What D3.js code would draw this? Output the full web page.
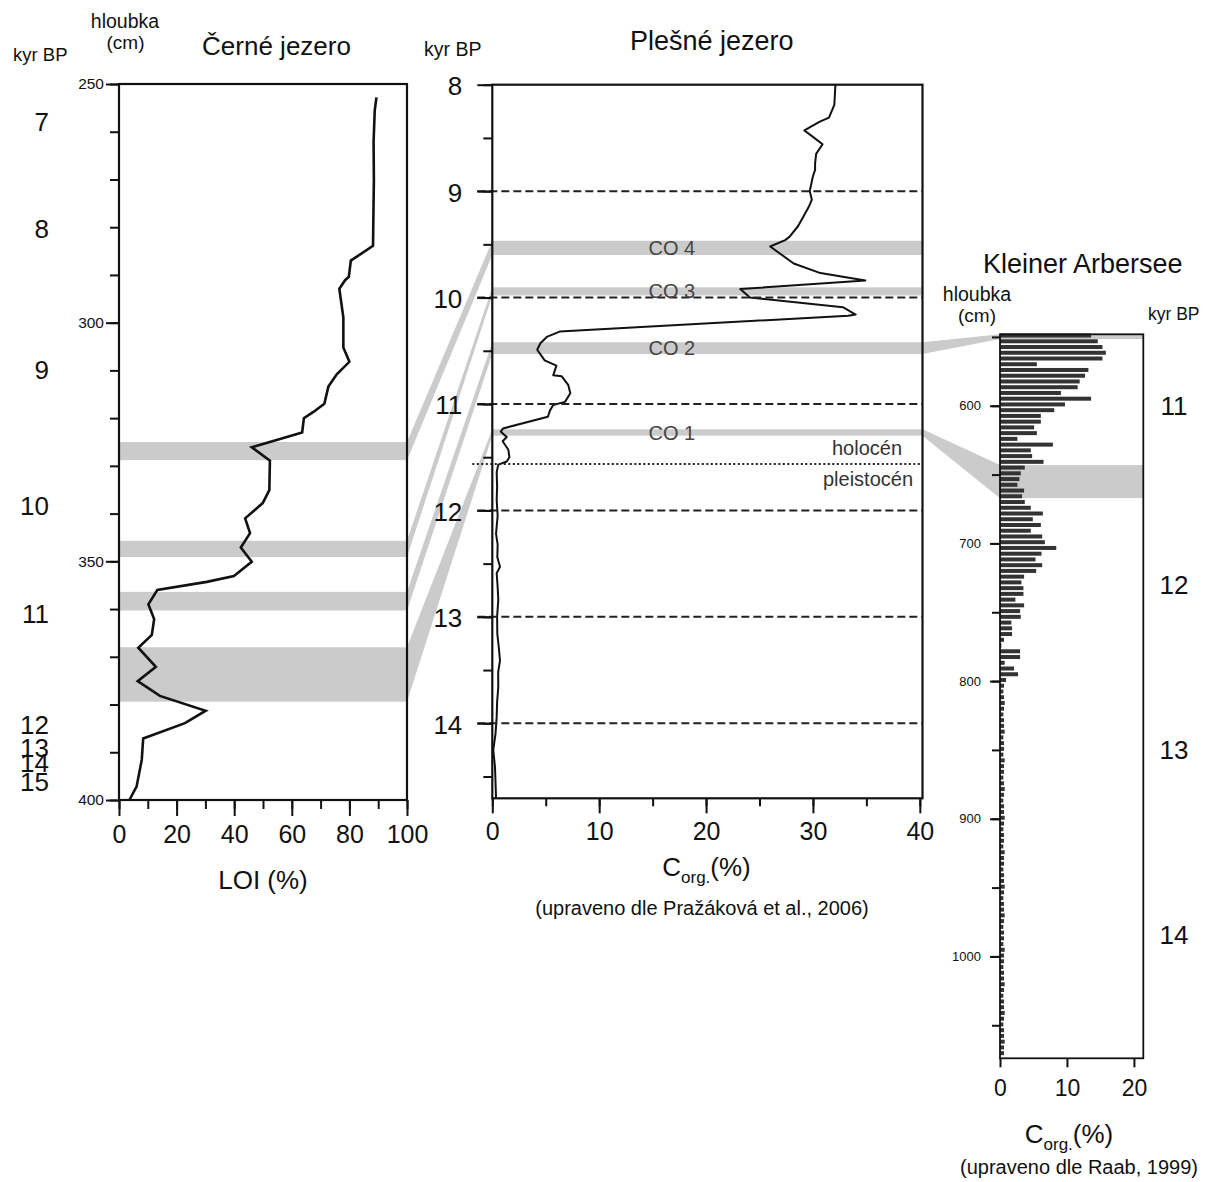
<!DOCTYPE html>
<html>
<head>
<meta charset="utf-8">
<script src="https://cdn.jsdelivr.net/npm/d3@7"></script>
<style>
  body { margin: 0; background: #fff; }
  svg { font-family: "Liberation Sans", Arial, sans-serif; }
</style>
</head>
<body>
<svg id="fig" width="1211" height="1182"></svg>
<script>
// ---------- Černé jezero: loss on ignition (%) against depth (cm) ----------
const cerneDepth = [252.8, 255.5, 262, 270.1, 283.9, 287.0, 290.4, 291.1, 292.9, 298.9, 305.2, 308.2, 310.8,
  313.4, 317.0, 318.7, 320.0, 323.0, 326.1, 328.9, 335.1, 337.8, 341.0, 344.1, 347.1, 350.1, 353.1, 354.3,
  356.0, 359.0, 362.1, 365.4, 368.1, 372.1, 375.1, 378.2, 381.3, 383.9, 387.1, 391.6, 397.2, 400.0];
const cerneLOI = [89.4, 88.8, 88.4, 88.5, 88.2, 80.5, 79.8, 78.5, 76.5, 77.9, 77.9, 80.0, 75.6,
  72.7, 71.3, 67.5, 64.2, 63.6, 46.1, 52.4, 52.2, 49.9, 43.8, 45.5, 42.3, 46.1, 39.9, 30.5,
  13.3, 10.2, 12.2, 11.4, 6.7, 12.8, 6.5, 14.2, 30.1, 22.9, 8.4, 7.9, 6.1, 3.6];
const cerneDepthLabels = [250, 300, 350, 400];
const cerneLOILabels = [0, 20, 40, 60, 80, 100];
const cerneAgeLabels = ["7", "8", "9", "10", "11", "12", "13", "14", "15"];
const cerneAgeDepth = [257.9, 280.2, 309.9, 338.2, 361.0, 384.2, 389.1, 392.1, 396.1];
const cerneBandTop = [325.0, 345.7, 356.4, 368.0];
const cerneBandBottom = [328.8, 349.1, 360.3, 379.4];

// ---------- Plešné jezero: organic carbon (%) against age (kyr BP) ----------
const plesneAge = [8.00, 8.19, 8.31, 8.35, 8.43, 8.49, 8.56, 8.65, 8.74, 8.80, 8.86, 9.00, 9.08, 9.15, 9.24,
  9.33, 9.43, 9.46, 9.52, 9.68, 9.77, 9.84, 9.92, 10.00, 10.09, 10.16, 10.17, 10.32, 10.37, 10.43, 10.49,
  10.59, 10.64, 10.73, 10.74, 10.82, 10.90, 10.98, 11.01, 11.06, 11.12, 11.23, 11.26, 11.31, 11.35, 11.43,
  11.50, 11.54, 11.57, 11.64, 11.78, 11.90, 12.05, 12.22, 12.32, 12.44, 12.53, 12.59, 12.72, 12.84, 13.00,
  13.16, 13.28, 13.41, 13.52, 13.66, 13.80, 13.94, 14.10, 14.25, 14.41, 14.55, 14.705];
const plesneCorg = [32.1, 32.0, 31.5, 30.6, 29.2, 30.0, 30.9, 30.3, 30.2, 30.2, 30.0, 29.7, 29.9, 29.6, 29.1,
  28.6, 27.8, 27.4, 26.0, 28.2, 30.7, 34.9, 23.2, 24.1, 32.8, 34.0, 33.3, 6.3, 5.1, 4.5, 4.2,
  4.9, 6.0, 5.7, 6.5, 7.1, 7.3, 6.8, 5.7, 5.4, 5.2, 1.0, 0.8, 1.35, 0.97, 1.5,
  1.6, 1.35, 0.56, 0.41, 0.45, 0.41, 0.5, 0.35, 0.5, 0.47, 0.72, 0.41, 0.5, 0.56, 0.45,
  0.47, 0.6, 0.72, 0.55, 0.56, 0.45, 0.41, 0.3, 0.09, 0.25, 0.3, 0.35];
const plesneAgeLabels = [8, 9, 10, 11, 12, 13, 14];
const plesneCorgLabels = [0, 10, 20, 30, 40];
const coZones = ["CO 4", "CO 3", "CO 2", "CO 1"];
const coAgeTop = [9.466, 9.904, 10.42, 11.238];
const coAgeBottom = [9.600, 9.980, 10.53, 11.298];
const epochBoundaryAge = 11.564;
const epochLabels = ["holocén", "pleistocén"];

// ---------- Kleiner Arbersee: organic carbon (%) against depth (cm) ----------
const arberseeCorg = [13.6, 14.6, 15.3, 15.8, 15.3, 5.5, 13.2, 12.7, 11.9, 11.6, 9.1, 13.6, 9.7, 8.1, 6.1, 6.1,
  5.1, 5.5, 2.6, 7.9, 4.6, 4.8, 6.5, 3.7, 3.1, 2.9, 2.6, 3.6, 3.3, 3.7, 4.6, 6.4, 4.9, 6.1, 4.6, 6.3,
  6.7, 8.4, 6.2, 5.3, 6.3, 5.4, 3.6, 3.2, 3.5, 3.5, 2.3, 3.6, 3.0, 3.1, 1.7, 1.8, 1.8, 0.6, 0.2, 3.0,
  3.0, 0.7, 2.1, 2.7, 0.9,
  0.6, 0.5, 0.6, 0.7, 0.6, 0.5, 0.6, 0.6, 0.7, 0.5, 0.6, 0.6, 0.5, 0.7, 0.6, 0.6, 0.5, 0.6, 0.7, 0.6,
  0.5, 0.6, 0.6, 0.7, 0.6, 0.5, 0.6, 0.6, 0.5, 0.7, 0.6, 0.6, 0.5, 0.6, 0.6, 0.7, 0.6, 0.5, 0.6, 0.6,
  0.7, 0.6, 0.5, 0.6, 0.6, 0.5, 0.7, 0.6, 0.6, 0.5, 0.6, 0.6, 0.7, 0.6, 0.5, 0.6, 0.6, 0.7, 0.6, 0.5,
  0.6, 0.6, 0.7, 0.6, 0.6];
const arberseeFirstDepth = 549;   // cm, first sample
const arberseeSpacing = 4.17;     // cm between samples
const arberseeDepthLabels = [600, 700, 800, 900, 1000];
const arberseeCorgLabels = [0, 10, 20];
const arberseeAgeLabels = ["11", "12", "13", "14"];
const arberseeAgeDepth = [599.6, 729.7, 850, 983.8];
const arberseeBandTop = [548.1, 643.1];
const arberseeBandBottom = [551.5, 667.1];
const arberseeBandZone = ["CO 2", "CO 1"];

// ---------- layout ----------
const svg = d3.select("#fig");
const INK = "#111";
const BAND = "#cbcbcb";
const plain = d => String(d);

const xL = d3.scaleLinear([0, 100], [119, 407]);
const yL = d3.scaleLinear([250, 400], [84, 800]);
const xM = d3.scaleLinear([0, 40.25], [492.3, 922.5]);
const yM = d3.scaleLinear([8, 14.705], [84.7, 798.3]);
const xR = d3.scaleLinear([0, 21.4], [1000, 1143.3]);
const yR = d3.scaleLinear([548.1, 1074], [334.3, 1058.3]);

const gBands = svg.append("g");
const gMarks = svg.append("g");
const gAxes = svg.append("g");
const gText = svg.append("g");

// ---------- grey correlation bands and connectors ----------
cerneBandTop.forEach((t, i) => {
  gBands.append("rect")
    .attr("x", xL(0)).attr("width", xL(100) - xL(0))
    .attr("y", yL(t)).attr("height", yL(cerneBandBottom[i]) - yL(t))
    .attr("fill", BAND);
});
coAgeTop.forEach((t, i) => {
  gBands.append("rect")
    .attr("x", xM.range()[0]).attr("width", xM.range()[1] - xM.range()[0])
    .attr("y", yM(t)).attr("height", yM(coAgeBottom[i]) - yM(t))
    .attr("fill", BAND);
  // Černé jezero band -> Plešné zone
  gBands.append("polygon")
    .attr("points", [
      [xL(100), yL(cerneBandTop[i])], [xM(0), yM(t)],
      [xM(0), yM(coAgeBottom[i])], [xL(100), yL(cerneBandBottom[i])]
    ].map(p => p.join(",")).join(" "))
    .attr("fill", BAND);
});
arberseeBandTop.forEach((t, i) => {
  gBands.append("rect")
    .attr("x", xR(0)).attr("width", xR.range()[1] - xR(0))
    .attr("y", yR(t)).attr("height", yR(arberseeBandBottom[i]) - yR(t))
    .attr("fill", BAND);
  const z = coZones.indexOf(arberseeBandZone[i]);
  gBands.append("polygon")
    .attr("points", [
      [xM.range()[1], yM(coAgeTop[z])], [xR(0), yR(t)],
      [xR(0), yR(arberseeBandBottom[i])], [xM.range()[1], yM(coAgeBottom[z])]
    ].map(p => p.join(",")).join(" "))
    .attr("fill", BAND);
});

// ---------- data marks ----------
gMarks.append("path")
  .datum(cerneDepth.map((d, i) => [cerneLOI[i], d]))
  .attr("d", d3.line().x(d => xL(d[0])).y(d => yL(d[1])))
  .attr("fill", "none").attr("stroke", INK).attr("stroke-width", 2.6).attr("stroke-linejoin", "miter");

gMarks.append("path")
  .datum(plesneAge.map((a, i) => [plesneCorg[i], a]))
  .attr("d", d3.line().x(d => xM(d[0])).y(d => yM(d[1])))
  .attr("fill", "none").attr("stroke", INK).attr("stroke-width", 2).attr("stroke-linejoin", "round");

gMarks.selectAll("rect.bar")
  .data(arberseeCorg)
  .join("rect")
  .attr("class", "bar")
  .attr("x", xR(0))
  .attr("y", (v, i) => yR(arberseeFirstDepth + i * arberseeSpacing) - 2)
  .attr("width", v => xR(v) - xR(0))
  .attr("height", 4)
  .attr("fill", "#333");

// millennium lines in Plešné jezero
plesneAgeLabels.filter(a => a > 8).forEach(a => {
  gMarks.append("line")
    .attr("x1", xM.range()[0] - 15).attr("x2", xM.range()[1])
    .attr("y1", yM(a)).attr("y2", yM(a))
    .attr("stroke", "#222").attr("stroke-width", 2).attr("stroke-dasharray", "8,4");
});
gMarks.append("line")
  .attr("x1", xM.range()[0] - 20).attr("x2", xM.range()[1])
  .attr("y1", yM(epochBoundaryAge)).attr("y2", yM(epochBoundaryAge))
  .attr("stroke", "#222").attr("stroke-width", 2).attr("stroke-dasharray", "2,2.5");

// ---------- frames ----------
function frame(x0, x1, y0, y1, w) {
  gAxes.append("rect")
    .attr("x", x0).attr("y", y0).attr("width", x1 - x0).attr("height", y1 - y0)
    .attr("fill", "none").attr("stroke", INK).attr("stroke-width", w);
}
frame(xL(0), xL(100), yL(250), yL(400), 2.2);
frame(xM.range()[0], xM.range()[1], yM(8), yM(14.705), 2.2);
frame(xR(0), xR.range()[1], yR(548.1), yR(1074), 1.8);

// ---------- axes ----------
function styleAxis(g, size) {
  g.select(".domain").remove();
  g.selectAll("line").attr("stroke", INK).attr("stroke-width", 2);
  g.selectAll("text").attr("fill", INK).attr("font-size", size)
    .attr("font-family", '"Liberation Sans", Arial, sans-serif');
}
function addAxis(axis, tx, ty, size) {
  const g = gAxes.append("g").attr("transform", `translate(${tx},${ty})`).call(axis);
  styleAxis(g, size);
  return g;
}

// Černé jezero axes
addAxis(d3.axisLeft(yL).tickValues(d3.range(250, 401, 10)).tickSize(9).tickFormat(""), xL(0), 0, 15);
addAxis(d3.axisLeft(yL).tickValues(cerneDepthLabels).tickSize(13).tickPadding(2).tickFormat(plain), xL(0), 0, 15.5);
addAxis(d3.axisBottom(xL).tickValues(d3.range(0, 101, 10)).tickSize(9).tickFormat(""), 0, yL(400), 25);
addAxis(d3.axisBottom(xL).tickValues(cerneLOILabels).tickSize(16).tickPadding(9).tickFormat(plain), 0, yL(400), 25);

// Plešné jezero axes
addAxis(d3.axisLeft(yM).tickValues(d3.range(8, 14.6, 0.5)).tickSize(9).tickFormat(""), xM.range()[0], 0, 15);
addAxis(d3.axisLeft(yM).tickValues(plesneAgeLabels).tickSize(15).tickPadding(15).tickFormat(plain), xM.range()[0], 0, 26)
  .selectAll("text").attr("dy", "0.38em");
addAxis(d3.axisBottom(xM).tickValues(d3.range(0, 41, 5)).tickSize(8).tickFormat(""), 0, yM(14.705), 25);
addAxis(d3.axisBottom(xM).tickValues(plesneCorgLabels).tickSize(15).tickPadding(9).tickFormat(plain), 0, yM(14.705), 25);

// Kleiner Arbersee axes
addAxis(d3.axisLeft(yR).tickValues(d3.range(550, 1051, 50)).tickSize(8).tickFormat(""), xR(0), 0, 13);
addAxis(d3.axisLeft(yR).tickValues(arberseeDepthLabels).tickSize(10).tickPadding(9).tickFormat(plain), xR(0), 0, 13);
addAxis(d3.axisBottom(xR).tickValues(arberseeCorgLabels).tickSize(9).tickPadding(12).tickFormat(plain), 0, yR(1074), 23);

// ---------- text ----------
function label(x, y, str, size, anchor, fill) {
  return gText.append("text").attr("x", x).attr("y", y).text(str)
    .attr("font-size", size).attr("text-anchor", anchor || "middle").attr("fill", fill || INK);
}
function corgLabel(x, y) {
  const t = gText.append("text").attr("x", x).attr("y", y)
    .attr("text-anchor", "middle").attr("font-size", 26).attr("fill", INK);
  t.append("tspan").text("C");
  t.append("tspan").attr("font-size", 17).attr("dy", 7).text("org.");
  t.append("tspan").attr("dy", -7).text("(%)");
}

// titles and headers
label(276.5, 55, "Černé jezero", 26);
label(711.7, 50, "Plešné jezero", 27);
label(1082.8, 273, "Kleiner Arbersee", 27);
label(13, 61, "kyr BP", 18.5, "start");
label(125, 28, "hloubka", 19.5);
label(125.5, 49, "(cm)", 19);
label(424, 56, "kyr BP", 19.5, "start");
label(977, 301, "hloubka", 19.5);
label(977, 322, "(cm)", 19);
label(1148, 320, "kyr BP", 17.5, "start");

// age labels beside the depth axes
cerneAgeLabels.forEach((s, i) => label(49, yL(cerneAgeDepth[i]) + 9.5, s, 26, "end"));
arberseeAgeLabels.forEach((s, i) => label(1174, yR(arberseeAgeDepth[i]) + 9.5, s, 26));

// zone labels in Plešné jezero
coZones.forEach((s, i) => label(xM(16.8), (yM(coAgeTop[i]) + yM(coAgeBottom[i])) / 2 + 7, s, 20, "middle", "#444"));
label(867, yM(epochBoundaryAge) - 9, epochLabels[0], 20, "middle", "#333");
label(868, yM(epochBoundaryAge) + 22, epochLabels[1], 20, "middle", "#333");

// axis titles and sources
label(263, 889, "LOI (%)", 26);
corgLabel(706.5, 876);
label(702, 915, "(upraveno dle Pražáková et al., 2006)", 20);
corgLabel(1069, 1143);
label(1079, 1174, "(upraveno dle Raab, 1999)", 20);
</script>
</body>
</html>
